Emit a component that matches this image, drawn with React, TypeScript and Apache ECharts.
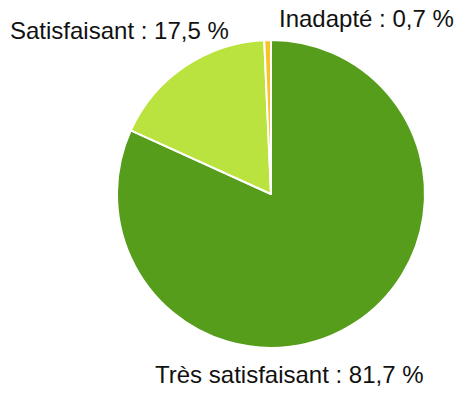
import React, { useEffect, useRef } from "react";
import * as echarts from "echarts";

const categories = ["Très satisfaisant", "Satisfaisant", "Inadapté"];
const values = [81.7, 17.5, 0.7];
const colors = ["#579d1c", "#bbe33f", "#f7c22a"];
const labelSpots = [
  { x: 155, y: 374 },
  { x: 10, y: 30 },
  { x: 279, y: 18 },
];

export default function App() {
  const ref = useRef<HTMLDivElement>(null);
  useEffect(() => {
    if (!ref.current) return;
    const chart = echarts.init(ref.current, undefined, { renderer: "svg" });
    chart.setOption({
      animation: false,
      backgroundColor: "#ffffff",
      series: [
        {
          type: "pie",
          center: [271, 194],
          radius: [0, 154],
          startAngle: 90,
          clockwise: true,
          avoidLabelOverlap: false,
          data: categories.map((name, i) => ({
            name,
            value: values[i],
            itemStyle: { color: colors[i] },
          })),
          itemStyle: { borderColor: "#ffffff", borderWidth: 2 },
          label: {
            show: true,
            position: "outside",
            fontFamily: "Liberation Sans",
            fontSize: 24,
            color: "#111111",
            overflow: "none",
            width: 400,
            formatter: (p: any) => `${p.name} : ${String(p.value).replace(".", ",")} %`,
          },
          labelLine: { show: false },
          labelLayout: (p: any) => ({
            x: labelSpots[p.dataIndex].x,
            y: labelSpots[p.dataIndex].y,
            align: "left",
            verticalAlign: "middle",
          }),
          emphasis: { disabled: true },
        },
      ],
    });
    return () => chart.dispose();
  }, []);
  return (
    <div
      ref={ref}
      style={{ position: "fixed", left: 0, top: 0, width: 470, height: 397 }}
    />
  );
}
